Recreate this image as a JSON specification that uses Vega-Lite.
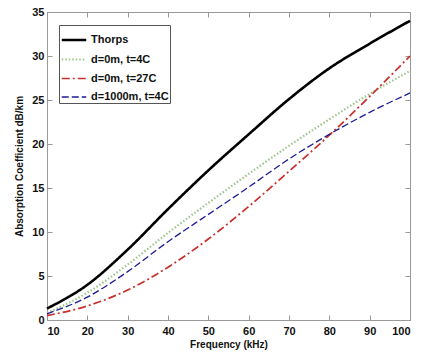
{
  "$schema": "https://vega.github.io/schema/vega-lite/v6.json",
  "width": 363,
  "height": 308,
  "autosize": {"type": "none"},
  "padding": {"left": 47, "top": 12, "right": 16, "bottom": 37},
  "background": "white",
  "config": {
    "view": {"stroke": "#999", "strokeWidth": 1},
    "font": "Liberation Sans",
    "axis": {
      "grid": false,
      "domainColor": "#999",
      "tickColor": "#999",
      "tickSize": -5,
      "labelColor": "#111",
      "labelFontSize": 11,
      "labelFontWeight": "bold",
      "titleFontSize": 10,
      "titleFontWeight": "bold",
      "titleColor": "#111"
    }
  },
  "data": {
    "values": [
      {"f": 10, "s": "Thorps", "a": 1.3},
      {"f": 20, "s": "Thorps", "a": 4.0},
      {"f": 30, "s": "Thorps", "a": 8.0},
      {"f": 40, "s": "Thorps", "a": 12.6},
      {"f": 50, "s": "Thorps", "a": 17.0},
      {"f": 60, "s": "Thorps", "a": 21.1},
      {"f": 70, "s": "Thorps", "a": 25.1},
      {"f": 80, "s": "Thorps", "a": 28.6},
      {"f": 90, "s": "Thorps", "a": 31.4},
      {"f": 100, "s": "Thorps", "a": 34.0},
      {"f": 10, "s": "d=0m, t=4C", "a": 0.8},
      {"f": 20, "s": "d=0m, t=4C", "a": 3.1},
      {"f": 30, "s": "d=0m, t=4C", "a": 6.3},
      {"f": 40, "s": "d=0m, t=4C", "a": 9.9},
      {"f": 50, "s": "d=0m, t=4C", "a": 13.3},
      {"f": 60, "s": "d=0m, t=4C", "a": 16.6},
      {"f": 70, "s": "d=0m, t=4C", "a": 19.8},
      {"f": 80, "s": "d=0m, t=4C", "a": 22.8},
      {"f": 90, "s": "d=0m, t=4C", "a": 25.7},
      {"f": 100, "s": "d=0m, t=4C", "a": 28.3},
      {"f": 10, "s": "d=0m, t=27C", "a": 0.5},
      {"f": 20, "s": "d=0m, t=27C", "a": 1.6},
      {"f": 30, "s": "d=0m, t=27C", "a": 3.4},
      {"f": 40, "s": "d=0m, t=27C", "a": 6.0},
      {"f": 50, "s": "d=0m, t=27C", "a": 9.2},
      {"f": 60, "s": "d=0m, t=27C", "a": 12.9},
      {"f": 70, "s": "d=0m, t=27C", "a": 16.9},
      {"f": 80, "s": "d=0m, t=27C", "a": 21.0},
      {"f": 90, "s": "d=0m, t=27C", "a": 25.4},
      {"f": 100, "s": "d=0m, t=27C", "a": 30.0},
      {"f": 10, "s": "d=1000m, t=4C", "a": 0.7},
      {"f": 20, "s": "d=1000m, t=4C", "a": 2.6},
      {"f": 30, "s": "d=1000m, t=4C", "a": 5.5},
      {"f": 40, "s": "d=1000m, t=4C", "a": 8.9},
      {"f": 50, "s": "d=1000m, t=4C", "a": 12.0},
      {"f": 60, "s": "d=1000m, t=4C", "a": 15.1},
      {"f": 70, "s": "d=1000m, t=4C", "a": 18.3},
      {"f": 80, "s": "d=1000m, t=4C", "a": 21.1},
      {"f": 90, "s": "d=1000m, t=4C", "a": 23.6},
      {"f": 100, "s": "d=1000m, t=4C", "a": 25.8}
    ]
  },
  "resolve": {"axis": {"x": "independent", "y": "independent"}},
  "layer": [
    {
      "mark": {"type": "line", "opacity": 0},
      "encoding": {
        "x": {"field": "f", "type": "quantitative", "scale": {"domain": [10, 100]},
              "axis": {"orient": "top", "labels": false, "title": null, "values": [10,20,30,40,50,60,70,80,90,100], "domain": false}},
        "y": {"field": "a", "type": "quantitative", "scale": {"domain": [0, 35]},
              "axis": {"orient": "right", "labels": false, "title": null, "values": [0,5,10,15,20,25,30,35], "domain": false}},
        "detail": {"field": "s"}
      }
    },
    {
      "mark": {"type": "line", "interpolate": "monotone"},
      "encoding": {
        "x": {"field": "f", "type": "quantitative", "scale": {"domain": [10, 100]},
              "axis": {"title": "Frequency (kHz)", "values": [10,20,30,40,50,60,70,80,90,100], "labelPadding": 10.5, "titlePadding": 3}},
        "y": {"field": "a", "type": "quantitative", "scale": {"domain": [0, 35]},
              "axis": {"title": "Absorption Coefficient dB/km", "values": [0,5,10,15,20,25,30,35], "labelPadding": 8, "titlePadding": 7}},
        "color": {
          "field": "s", "type": "nominal",
          "scale": {"domain": ["Thorps", "d=0m, t=4C", "d=0m, t=27C", "d=1000m, t=4C"], "range": ["#000000", "#9cc48c", "#c8302c", "#1c1c96"]},
          "legend": {
            "title": null, "orient": "none", "legendX": 12, "legendY": 13,
            "symbolType": "stroke", "symbolSize": 600,
            "labelFontSize": 11, "labelFontWeight": "bold", "labelColor": "#111",
            "strokeColor": "#555", "fillColor": "white", "padding": 1, "rowPadding": -5.5, "labelOffset": 3
          }
        },
        "strokeDash": {
          "field": "s", "type": "nominal",
          "scale": {"domain": ["Thorps", "d=0m, t=4C", "d=0m, t=27C", "d=1000m, t=4C"], "range": [[1, 0], [1.5, 2], [8, 3, 2, 3], [7, 3]]},
          "legend": null
        },
        "strokeWidth": {
          "field": "s", "type": "nominal",
          "scale": {"domain": ["Thorps", "d=0m, t=4C", "d=0m, t=27C", "d=1000m, t=4C"], "range": [2.6, 1.3, 2.8, 2.8]},
          "legend": null
        }
      }
    }
  ]
}
